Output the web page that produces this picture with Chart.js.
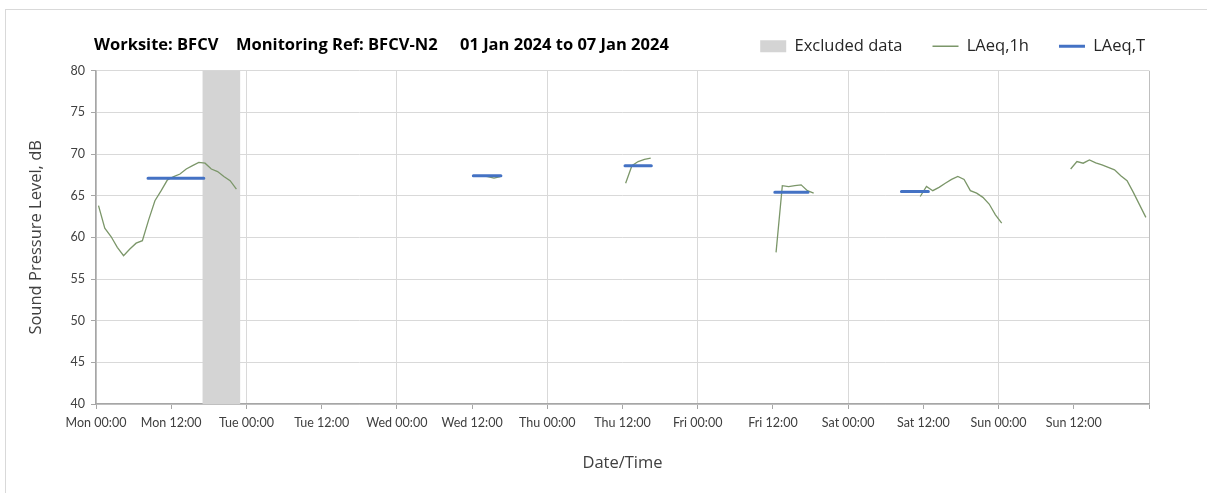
<!DOCTYPE html>
<html>
<head>
<meta charset="utf-8">
<script src="https://cdn.jsdelivr.net/npm/chart.js@4/dist/chart.umd.min.js"></script>
<style>
    html, body { margin: 0; padding: 0; background: #fff; }
    #wrap { position: relative; width: 1207px; height: 493px; overflow: hidden; }
    #frame { position: absolute; left: 5px; top: 9px; width: 1300px; height: 600px; border: 1px solid #d9d9d9; }
    #myChart { position: absolute; left: 0; top: 0; }
    .title { position: absolute; top: 32px; font: bold 16.5px "Open Sans", sans-serif; color: #000; white-space: nowrap; }
</style>
</head>
<body>
<div id="wrap">
    <div id="frame"></div>
    <canvas id="myChart" width="1207" height="493"></canvas>
    <div class="title" style="left:94px">Worksite: BFCV</div>
    <div class="title" style="left:236px">Monitoring Ref: BFCV-N2</div>
    <div class="title" style="left:460px">01 Jan 2024 to 07 Jan 2024</div>
</div>
<script>
// hours counted from Mon 00:00
const dayNames = ['Mon', 'Tue', 'Wed', 'Thu', 'Fri', 'Sat', 'Sun'];
const tickTimes = ['00:00', '12:00'];

const excludedFrom = [17];
const excludedTo = [23];

// LAeq,1h - one block per measured stretch
const hourlyStarts = [0.4, 60.5, 84.5, 108.5, 131.5, 155.5];
const monLevels = [63.8, 61.1, 60.1, 58.8, 57.8, 58.6, 59.3, 59.6, 62.1, 64.4, 65.6, 66.9, 67.3, 67.6, 68.2, 68.6, 69.0, 68.9, 68.2, 67.9, 67.3, 66.8, 65.8];
const wedLevels = [67.4, 67.4, 67.3, 67.1, 67.3];
const thuLevels = [66.5, 68.6, 69.1, 69.35, 69.5];
const friLevels = [58.2, 66.2, 66.1, 66.2, 66.3, 65.6, 65.3];
const satLevels = [64.9, 66.1, 65.6, 66.0, 66.5, 66.95, 67.3, 66.95, 65.6, 65.3, 64.8, 64.0, 62.7, 61.7];
const sunLevels = [68.2, 69.1, 68.9, 69.3, 68.95, 68.7, 68.4, 68.1, 67.4, 66.8, 65.4, 63.9, 62.4];

// LAeq,T - period averages
const periodFrom = [8.3, 60.2, 84.4, 108.3, 128.5];
const periodTo = [17.2, 64.6, 88.6, 113.6, 132.8];
const periodLevels = [67.1, 67.4, 68.6, 65.4, 65.5];

const green = '#7b9669';
const blue = '#4472c4';
const bandGrey = '#d4d4d4';

const hourlyBlocks = [monLevels, wedLevels, thuLevels, friLevels, satLevels, sunLevels];
const hourlyData = [];
hourlyBlocks.forEach((levels, b) => {
    levels.forEach((v, i) => hourlyData.push({ x: hourlyStarts[b] + i, y: v }));
    hourlyData.push({ x: hourlyStarts[b] + levels.length, y: null });
});

const periodData = [];
periodLevels.forEach((v, i) => {
    periodData.push({ x: periodFrom[i], y: v });
    periodData.push({ x: periodTo[i], y: v });
    periodData.push({ x: periodTo[i] + 0.5, y: null });
});

const excludedBand = {
    id: 'excludedBand',
    beforeDatasetsDraw(chart) {
        const { ctx, chartArea, scales: { x } } = chart;
        ctx.save();
        ctx.fillStyle = bandGrey;
        excludedFrom.forEach((from, i) => {
            const left = x.getPixelForValue(from);
            const right = x.getPixelForValue(excludedTo[i]);
            ctx.fillRect(left, chartArea.top, right - left, chartArea.bottom - chartArea.top);
        });
        ctx.restore();
    }
};

const tickFont = { family: 'Lato, sans-serif', size: 12.5 };
const titleFont = { family: '"Open Sans", sans-serif', size: 16.5 };
const ctx = document.getElementById('myChart').getContext('2d');

new Chart(ctx, {
    type: 'line',
    data: {
        datasets: [
            {
                label: 'LAeq,1h',
                data: hourlyData,
                borderColor: green,
                borderWidth: 1.3,
                pointRadius: 0,
                tension: 0,
                spanGaps: false,
                order: 1
            },
            {
                label: 'LAeq,T',
                data: periodData,
                borderColor: blue,
                borderWidth: 3,
                borderCapStyle: 'round',
                pointRadius: 0,
                spanGaps: false,
                order: 0
            }
        ]
    },
    options: {
        responsive: false,
        animation: false,
        layout: { padding: { left: 5, right: 32, top: 8, bottom: 0 } },
        scales: {
            x: {
                type: 'linear',
                min: 0,
                max: 168,
                afterFit: s => { s.height = 89; },
                ticks: {
                    stepSize: 12,
                    padding: 6,
                    color: '#404040',
                    font: tickFont,
                    maxRotation: 0,
                    callback: (value) => value >= 168 ? '' : dayNames[Math.floor(value / 24)] + ' ' + tickTimes[(value % 24) / 12]
                },
                grid: {
                    color: c => c.tick && c.tick.value % 24 === 0 ? (c.tick.value === 168 ? '#bfbfbf' : '#d9d9d9') : 'rgba(0,0,0,0)',
                    tickColor: '#a6a6a6',
                    tickLength: 5
                },
                border: { color: '#a6a6a6', width: 1.5 },
                title: {
                    display: true,
                    text: 'Date/Time',
                    color: '#404040',
                    font: titleFont,
                    padding: { top: 0, bottom: 20 }
                }
            },
            y: {
                min: 40,
                max: 80,
                afterFit: s => { s.width = 91; },
                ticks: { stepSize: 5, padding: 6, color: '#404040', font: tickFont },
                grid: { color: '#d9d9d9', tickColor: '#a6a6a6', tickLength: 5 },
                border: { color: '#a6a6a6', width: 1.5 },
                title: {
                    display: true,
                    text: 'Sound Pressure Level, dB',
                    color: '#404040',
                    font: titleFont,
                    padding: { top: 21, bottom: 0 }
                }
            },
            yRight: {
                position: 'right',
                afterFit: s => { s.width = 26; },
                ticks: { display: false },
                grid: { display: false },
                border: { display: false }
            }
        },
        plugins: {
            // empty title used only as a spacer between the legend row and the plot
            title: {
                display: true,
                text: '',
                weight: 500,
                font: { size: 1 },
                padding: { top: 0, bottom: 5 }
            },
            legend: {
                position: 'top',
                align: 'end',
                labels: {
                    usePointStyle: true,
                    pointStyleWidth: 26,
                    boxHeight: 12,
                    padding: 30,
                    color: '#262626',
                    font: { family: '"Open Sans", sans-serif', size: 16.5 },
                    generateLabels: () => [
                        { text: 'Excluded data', fillStyle: bandGrey, strokeStyle: bandGrey, lineWidth: 0, pointStyle: 'rect', fontColor: '#262626' },
                        { text: 'LAeq,1h', fillStyle: green, strokeStyle: green, lineWidth: 1.3, pointStyle: 'line', fontColor: '#262626' },
                        { text: 'LAeq,T', fillStyle: blue, strokeStyle: blue, lineWidth: 3, pointStyle: 'line', fontColor: '#262626' }
                    ]
                }
            },
            tooltip: { enabled: false }
        }
    },
    plugins: [excludedBand]
});
</script>
</body>
</html>
